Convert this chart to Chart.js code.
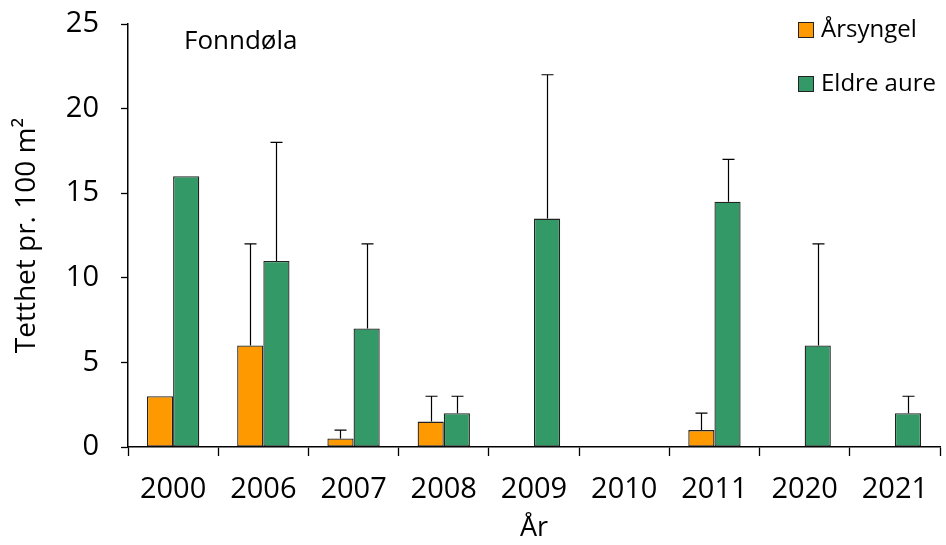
<!DOCTYPE html>
<html>
<head>
<meta charset="utf-8">
<script src="https://cdn.jsdelivr.net/npm/chart.js@4"></script>
<style>
  html, body { margin: 0; padding: 0; background: #fff; }
  #wrap { width: 946px; height: 545px; position: relative; }
</style>
</head>
<body>
<div id="wrap"><canvas id="c"></canvas></div>
<script>
// Fish density per survey year, Fonndøla
const years = ['2000', '2006', '2007', '2008', '2009', '2010', '2011', '2020', '2021'];
const fry = [3, 6, 0.5, 1.5, 0, 0, 1, 0, 0];          // Årsyngel
const fryUpper = [null, 12, 1, 3, null, null, 2, null, null];
const older = [16, 11, 7, 2, 13.5, 0, 14.5, 6, 2];     // Eldre aure
const olderUpper = [null, 18, 12, 3, 22, null, 17, 12, 3];
const yTicks = [0, 5, 10, 15, 20, 25];

const FONT = '"Open Sans", "Liberation Sans", sans-serif';
const uppers = [fryUpper, olderUpper];

// Upper-only error bars with a short cap
const errorBars = {
  id: 'errorBars',
  afterDatasetsDraw(chart) {
    const ctx = chart.ctx;
    const y = chart.scales.y;
    ctx.save();
    ctx.strokeStyle = '#000';
    ctx.lineWidth = 1.2;
    uppers.forEach((arr, di) => {
      const meta = chart.getDatasetMeta(di);
      arr.forEach((v, i) => {
        if (v === null) return;
        const bar = meta.data[i];
        const x = Math.round(bar.x) + 0.5;
        const top = y.getPixelForValue(v);
        ctx.beginPath();
        ctx.moveTo(x, bar.y);
        ctx.lineTo(x, top);
        ctx.moveTo(x - 6, top);
        ctx.lineTo(x + 6, top);
        ctx.stroke();
      });
    });
    ctx.restore();
  }
};

// Site name and legend inside the plot area
const annotations = {
  id: 'annotations',
  afterDraw(chart) {
    const ctx = chart.ctx;
    ctx.save();
    ctx.fillStyle = '#000';
    ctx.textBaseline = 'middle';
    ctx.textAlign = 'left';
    ctx.font = '26px ' + FONT;
    ctx.fillText('Fonndøla', 184, 42);

    ctx.font = '24px ' + FONT;
    chart.data.datasets.forEach((ds, i) => {
      const yy = 30 + i * 54;
      ctx.fillStyle = ds.backgroundColor;
      ctx.fillRect(798, yy - 8, 16, 16);
      ctx.strokeStyle = '#222';
      ctx.lineWidth = 1;
      ctx.strokeRect(798.5, yy - 7.5, 15, 15);
      ctx.fillStyle = '#000';
      ctx.fillText(ds.label, 821, yy);
    });
    ctx.restore();
  }
};

new Chart(document.getElementById('c'), {
  type: 'bar',
  data: {
    labels: years,
    datasets: [
      { label: 'Årsyngel', data: fry, backgroundColor: '#FF9900', borderColor: '#222', borderWidth: 1.3 },
      { label: 'Eldre aure', data: older, backgroundColor: '#339966', borderColor: '#222', borderWidth: 1.3 }
    ]
  },
  options: {
    responsive: true,
    maintainAspectRatio: false,
    animation: false,
    devicePixelRatio: 1,
    layout: { padding: { top: 24, right: 6, left: 0, bottom: 0 } },
    datasets: { bar: { categoryPercentage: 0.58, barPercentage: 1.0, borderSkipped: false } },
    plugins: { legend: { display: false }, tooltip: { enabled: false } },
    scales: {
      x: {
        offset: true,
        grid: { offset: true, drawOnChartArea: false, tickLength: 9, tickColor: '#000', tickWidth: 1.3 },
        border: { color: '#000', width: 1.5 },
        ticks: { color: '#000', font: { family: FONT, size: 29 }, padding: 16 },
        title: { display: true, text: 'År', color: '#000', font: { family: FONT, size: 27 }, padding: { top: -4, bottom: 0 } },
        afterFit(s) { s.height = 98; s.paddingLeft = 0; s.paddingRight = 0; }
      },
      y: {
        min: 0, max: 25,
        afterBuildTicks(s) { s.ticks = yTicks.map(v => ({ value: v })); },
        grid: { drawOnChartArea: false, tickLength: 7, tickColor: '#000', tickWidth: 1.3 },
        border: { color: '#000', width: 1.5 },
        ticks: { color: '#000', font: { family: FONT, size: 29 }, padding: 22 },
        title: { display: true, text: 'Tetthet pr. 100 m²', color: '#000', font: { family: FONT, size: 28 }, padding: { top: 10, bottom: 0 } },
        afterFit(s) { s.width = 128; s.paddingTop = 0; s.paddingBottom = 0; }
      }
    }
  },
  plugins: [errorBars, annotations]
});
</script>
</body>
</html>
